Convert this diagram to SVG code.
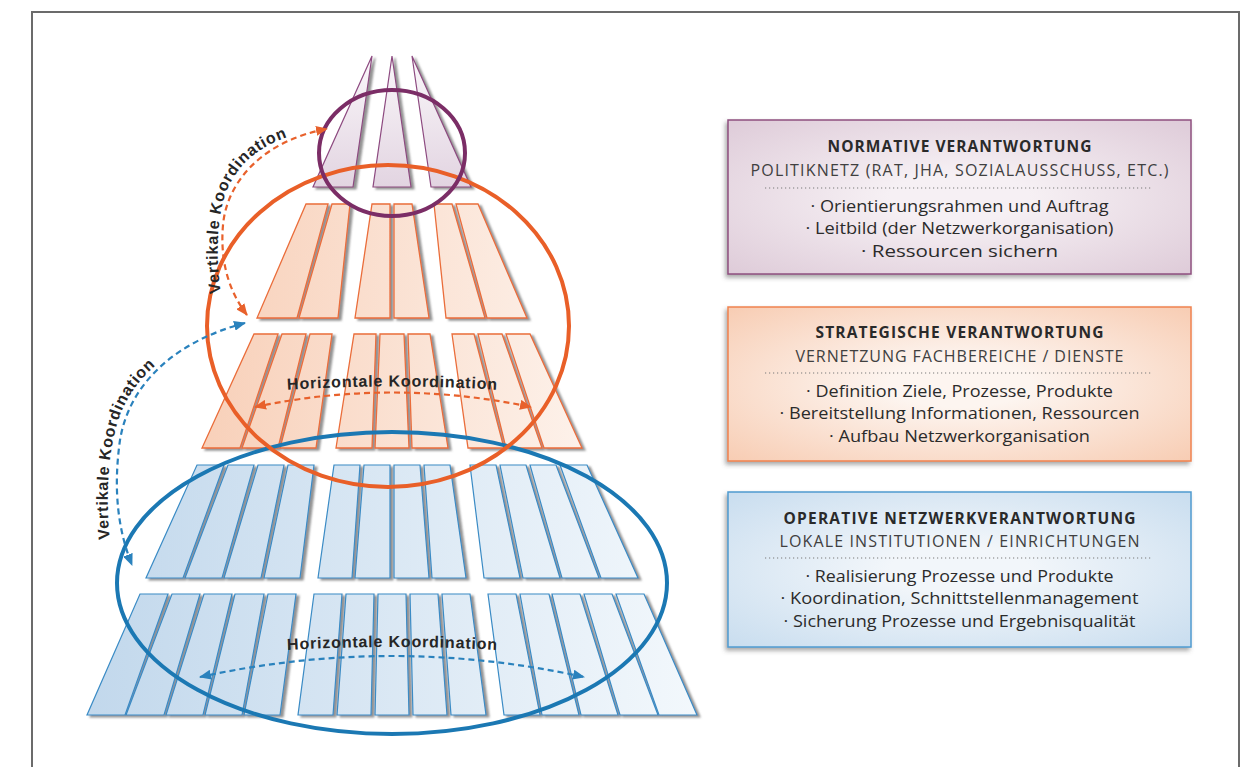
<svg xmlns="http://www.w3.org/2000/svg" width="1251" height="767" viewBox="0 0 1251 767">
<style>
.ps{fill:url(#gp);stroke:#8d4a80;stroke-width:1.2}
.os{fill:url(#go);stroke:#ea6d3a;stroke-width:1.3}
.bs{fill:url(#gb);stroke:#3a8bc5;stroke-width:1.2}
.ring{fill:none;stroke-width:4}
.dash{fill:none;stroke-width:2.2;stroke-dasharray:6 4}
.lab{font-family:"Liberation Sans",Arial,sans-serif;font-weight:bold;font-size:16px;letter-spacing:0.8px;fill:#262626}
.ttl{font-family:"Open Sans","Liberation Sans",sans-serif;font-weight:bold;font-size:15.5px;fill:#2a2a2a}
.sub{font-family:"Open Sans","Liberation Sans",sans-serif;font-size:16px;fill:#404040}
.bul{font-family:"Open Sans","Liberation Sans",sans-serif;font-size:17px;fill:#2b2b2b}
.dot{stroke:#7a7a7a;stroke-width:1.2;stroke-dasharray:1.2 2.8;fill:none}
</style>
<defs>
<linearGradient id="gb" gradientUnits="userSpaceOnUse" x1="90" y1="0" x2="700" y2="0"><stop offset="0" stop-color="#c2d8ec"/><stop offset="1" stop-color="#f3f8fc"/></linearGradient>
<linearGradient id="go" gradientUnits="userSpaceOnUse" x1="200" y1="0" x2="590" y2="0"><stop offset="0" stop-color="#f8d0b9"/><stop offset="1" stop-color="#fdf2eb"/></linearGradient>
<linearGradient id="gp" gradientUnits="userSpaceOnUse" x1="0" y1="56" x2="0" y2="187"><stop offset="0" stop-color="#faf7fa"/><stop offset="1" stop-color="#e2d4e1"/></linearGradient>
<radialGradient id="rp" cx="0.5" cy="0.5" r="0.75"><stop offset="0.2" stop-color="#f6f0f4"/><stop offset="1" stop-color="#dcc8d6"/></radialGradient>
<radialGradient id="ro" cx="0.5" cy="0.5" r="0.75"><stop offset="0.2" stop-color="#fdf5f0"/><stop offset="1" stop-color="#f7c9ae"/></radialGradient>
<radialGradient id="rb" cx="0.5" cy="0.5" r="0.75"><stop offset="0.2" stop-color="#f2f6fa"/><stop offset="1" stop-color="#c5dbee"/></radialGradient>
<filter id="sh" x="-10%" y="-10%" width="130%" height="130%"><feGaussianBlur in="SourceAlpha" stdDeviation="1.2"/><feOffset dx="3" dy="2" result="o"/><feFlood flood-color="#6e6e6e" flood-opacity="0.75"/><feComposite in2="o" operator="in"/><feMerge><feMergeNode/><feMergeNode in="SourceGraphic"/></feMerge></filter>
<filter id="bsh" x="-5%" y="-10%" width="110%" height="125%"><feDropShadow dx="-2" dy="3" stdDeviation="2" flood-color="#555" flood-opacity="0.5"/></filter>
<marker id="ao" viewBox="0 0 12 10" refX="11" refY="5" markerWidth="12" markerHeight="10" markerUnits="userSpaceOnUse" orient="auto-start-reverse"><path d="M0,0 L12,5 L0,10 z" fill="#e8612c"/></marker>
<marker id="ab" viewBox="0 0 12 10" refX="11" refY="5" markerWidth="12" markerHeight="10" markerUnits="userSpaceOnUse" orient="auto-start-reverse"><path d="M0,0 L12,5 L0,10 z" fill="#2a82bd"/></marker>
<path id="tpo" d="M 221,294 C 216,260 216,225 225,195 C 238,160 265,140 316,129"/>
<path id="tpb" d="M 110,540 C 105,495 108,450 120,415 C 132,385 155,360 192,341"/>
<path id="tho" d="M 270,391 Q 392,382 515,391"/>
<path id="thb" d="M 270,651 Q 392,643 515,651"/>
</defs>
<rect x="0" y="0" width="1251" height="767" fill="#fff"/>
<rect id="frame" x="32" y="12" width="1207" height="800" fill="#fff" stroke="#6b6b6b" stroke-width="2"/>

<g id="tier-normative" filter="url(#sh)">
<polygon class="ps" points="372,56 353,187 313,187"/>
<polygon class="ps" points="392,56 411,187 373,187"/>
<polygon class="ps" points="412,56 471,187 431,187"/>
</g>

<g id="tier-strategic-1" filter="url(#sh)">
<polygon class="os" points="306,204 328,204 297,318 257,318"/>
<polygon class="os" points="332,204 350,204 338,318 299,318"/>
<polygon class="os" points="372,204 390,204 390,318 355,318"/>
<polygon class="os" points="394,204 412,204 429,318 394,318"/>
<polygon class="os" points="434,204 452,204 485,318 446,318"/>
<polygon class="os" points="456,204 478,204 527,318 487,318"/>
</g>

<g id="tier-strategic-2" filter="url(#sh)">
<polygon class="os" points="254,334 278,334 240,448 202,448"/>
<polygon class="os" points="282,334 306,334 278,448 242,448"/>
<polygon class="os" points="310,334 332,334 316,448 280,448"/>
<polygon class="os" points="354,334 376,334 372,448 336,448"/>
<polygon class="os" points="380,334 404,334 409,448 375,448"/>
<polygon class="os" points="408,334 430,334 448,448 412,448"/>
<polygon class="os" points="452,334 474,334 504,448 468,448"/>
<polygon class="os" points="478,334 502,334 542,448 506,448"/>
<polygon class="os" points="506,334 530,334 582,448 544,448"/>
</g>

<g id="tier-operative-1" filter="url(#sh)">
<polygon class="bs" points="197,465 224,465 183,578 146,578"/>
<polygon class="bs" points="228,465 254,465 222,578 185,578"/>
<polygon class="bs" points="258,465 284,465 261,578 224,578"/>
<polygon class="bs" points="288,465 314,465 300,578 264,578"/>
<polygon class="bs" points="334,465 360,465 352,578 318,578"/>
<polygon class="bs" points="364,465 390,465 390,578 355,578"/>
<polygon class="bs" points="394,465 420,465 429,578 394,578"/>
<polygon class="bs" points="424,465 450,465 466,578 432,578"/>
<polygon class="bs" points="470,465 496,465 520,578 484,578"/>
<polygon class="bs" points="500,465 526,465 560,578 523,578"/>
<polygon class="bs" points="530,465 556,465 599,578 562,578"/>
<polygon class="bs" points="560,465 587,465 638,578 601,578"/>
</g>

<g id="tier-operative-2" filter="url(#sh)">
<polygon class="bs" points="140,594 168,594 125,715 87,715"/>
<polygon class="bs" points="172,594 200,594 164,715 126,715"/>
<polygon class="bs" points="204,594 232,594 203,715 166,715"/>
<polygon class="bs" points="235,594 264,594 242,715 205,715"/>
<polygon class="bs" points="268,594 296,594 280,715 244,715"/>
<polygon class="bs" points="314,594 342,594 333,715 298,715"/>
<polygon class="bs" points="346,594 374,594 371,715 337,715"/>
<polygon class="bs" points="378,594 406,594 409,715 375,715"/>
<polygon class="bs" points="410,594 438,594 447,715 413,715"/>
<polygon class="bs" points="442,594 470,594 486,715 451,715"/>
<polygon class="bs" points="488,594 516,594 540,715 504,715"/>
<polygon class="bs" points="520,594 549,594 579,715 542,715"/>
<polygon class="bs" points="552,594 580,594 618,715 581,715"/>
<polygon class="bs" points="584,594 612,594 658,715 620,715"/>
<polygon class="bs" points="616,594 644,594 697,715 659,715"/>
</g>

<g id="ring-operative"><ellipse class="ring" cx="392" cy="583" rx="275" ry="151" stroke="#1b78b3"/></g>
<g id="ring-strategic"><ellipse class="ring" cx="388" cy="326" rx="181" ry="161" stroke="#e95f28"/></g>
<g id="ring-normative"><ellipse class="ring" cx="392" cy="153" rx="73" ry="63" stroke="#7b2d66"/></g>

<g id="connectors">
<path class="dash" stroke="#e8612c" marker-start="url(#ao)" marker-end="url(#ao)" d="M 247,315 C 228,290 220,260 223,225 C 227,180 265,140 327,129"/>
<text class="lab"><textPath href="#tpo" startOffset="1">Vertikale Koordination</textPath></text>
<path class="dash" stroke="#2a82bd" marker-start="url(#ab)" marker-end="url(#ab)" d="M 245,323 C 180,340 130,380 120,440 C 113,490 118,530 132,565"/>
<text class="lab"><textPath href="#tpb" startOffset="1">Vertikale Koordination</textPath></text>
<path class="dash" stroke="#e8612c" marker-start="url(#ao)" marker-end="url(#ao)" d="M 255,407 Q 392,378 531,407"/>
<text class="lab" text-anchor="middle"><textPath href="#tho" startOffset="50%">Horizontale Koordination</textPath></text>
<path class="dash" stroke="#2a82bd" marker-start="url(#ab)" marker-end="url(#ab)" d="M 200,677 Q 392,635 584,677"/>
<text class="lab" text-anchor="middle"><textPath href="#thb" startOffset="50%">Horizontale Koordination</textPath></text>
</g>

<g id="box-normative">
<rect x="728" y="120" width="463" height="154" fill="url(#rp)" stroke="#8e4f7f" stroke-width="1.5" filter="url(#bsh)"/>
<text class="ttl" x="959.5" y="152" text-anchor="middle" textLength="264" lengthAdjust="spacing">NORMATIVE VERANTWORTUNG</text>
<text class="sub" x="959.5" y="176" text-anchor="middle" textLength="418" lengthAdjust="spacing">POLITIKNETZ (RAT, JHA, SOZIALAUSSCHUSS, ETC.)</text>
<line class="dot" x1="765" y1="188" x2="1153" y2="188"/>
<text class="bul" x="959.5" y="212" text-anchor="middle" textLength="298" lengthAdjust="spacingAndGlyphs">· Orientierungsrahmen und Auftrag</text>
<text class="bul" x="959.5" y="234" text-anchor="middle" textLength="308" lengthAdjust="spacingAndGlyphs">· Leitbild (der Netzwerkorganisation)</text>
<text class="bul" x="959.5" y="257" text-anchor="middle" textLength="197" lengthAdjust="spacingAndGlyphs">· Ressourcen sichern</text>
</g>

<g id="box-strategic">
<rect x="728" y="307" width="463" height="154" fill="url(#ro)" stroke="#f0824f" stroke-width="1.5" filter="url(#bsh)"/>
<text class="ttl" x="959.5" y="338" text-anchor="middle" textLength="288" lengthAdjust="spacing">STRATEGISCHE VERANTWORTUNG</text>
<text class="sub" x="959.5" y="362" text-anchor="middle" textLength="328" lengthAdjust="spacing">VERNETZUNG FACHBEREICHE / DIENSTE</text>
<line class="dot" x1="765" y1="373" x2="1153" y2="373"/>
<text class="bul" x="959.5" y="397" text-anchor="middle" textLength="307" lengthAdjust="spacingAndGlyphs">· Definition Ziele, Prozesse, Produkte</text>
<text class="bul" x="959.5" y="419" text-anchor="middle" textLength="360" lengthAdjust="spacingAndGlyphs">· Bereitstellung Informationen, Ressourcen</text>
<text class="bul" x="959.5" y="442" text-anchor="middle" textLength="261" lengthAdjust="spacingAndGlyphs">· Aufbau Netzwerkorganisation</text>
</g>

<g id="box-operative">
<rect x="728" y="492" width="463" height="155" fill="url(#rb)" stroke="#4f9bd0" stroke-width="1.5" filter="url(#bsh)"/>
<text class="ttl" x="959.5" y="524" text-anchor="middle" textLength="352" lengthAdjust="spacing">OPERATIVE NETZWERKVERANTWORTUNG</text>
<text class="sub" x="959.5" y="547" text-anchor="middle" textLength="360" lengthAdjust="spacing">LOKALE INSTITUTIONEN / EINRICHTUNGEN</text>
<line class="dot" x1="765" y1="558" x2="1153" y2="558"/>
<text class="bul" x="959.5" y="582" text-anchor="middle" textLength="308" lengthAdjust="spacingAndGlyphs">· Realisierung Prozesse und Produkte</text>
<text class="bul" x="959.5" y="604" text-anchor="middle" textLength="358" lengthAdjust="spacingAndGlyphs">· Koordination, Schnittstellenmanagement</text>
<text class="bul" x="959.5" y="627" text-anchor="middle" textLength="352" lengthAdjust="spacingAndGlyphs">· Sicherung Prozesse und Ergebnisqualität</text>
</g>
</svg>
